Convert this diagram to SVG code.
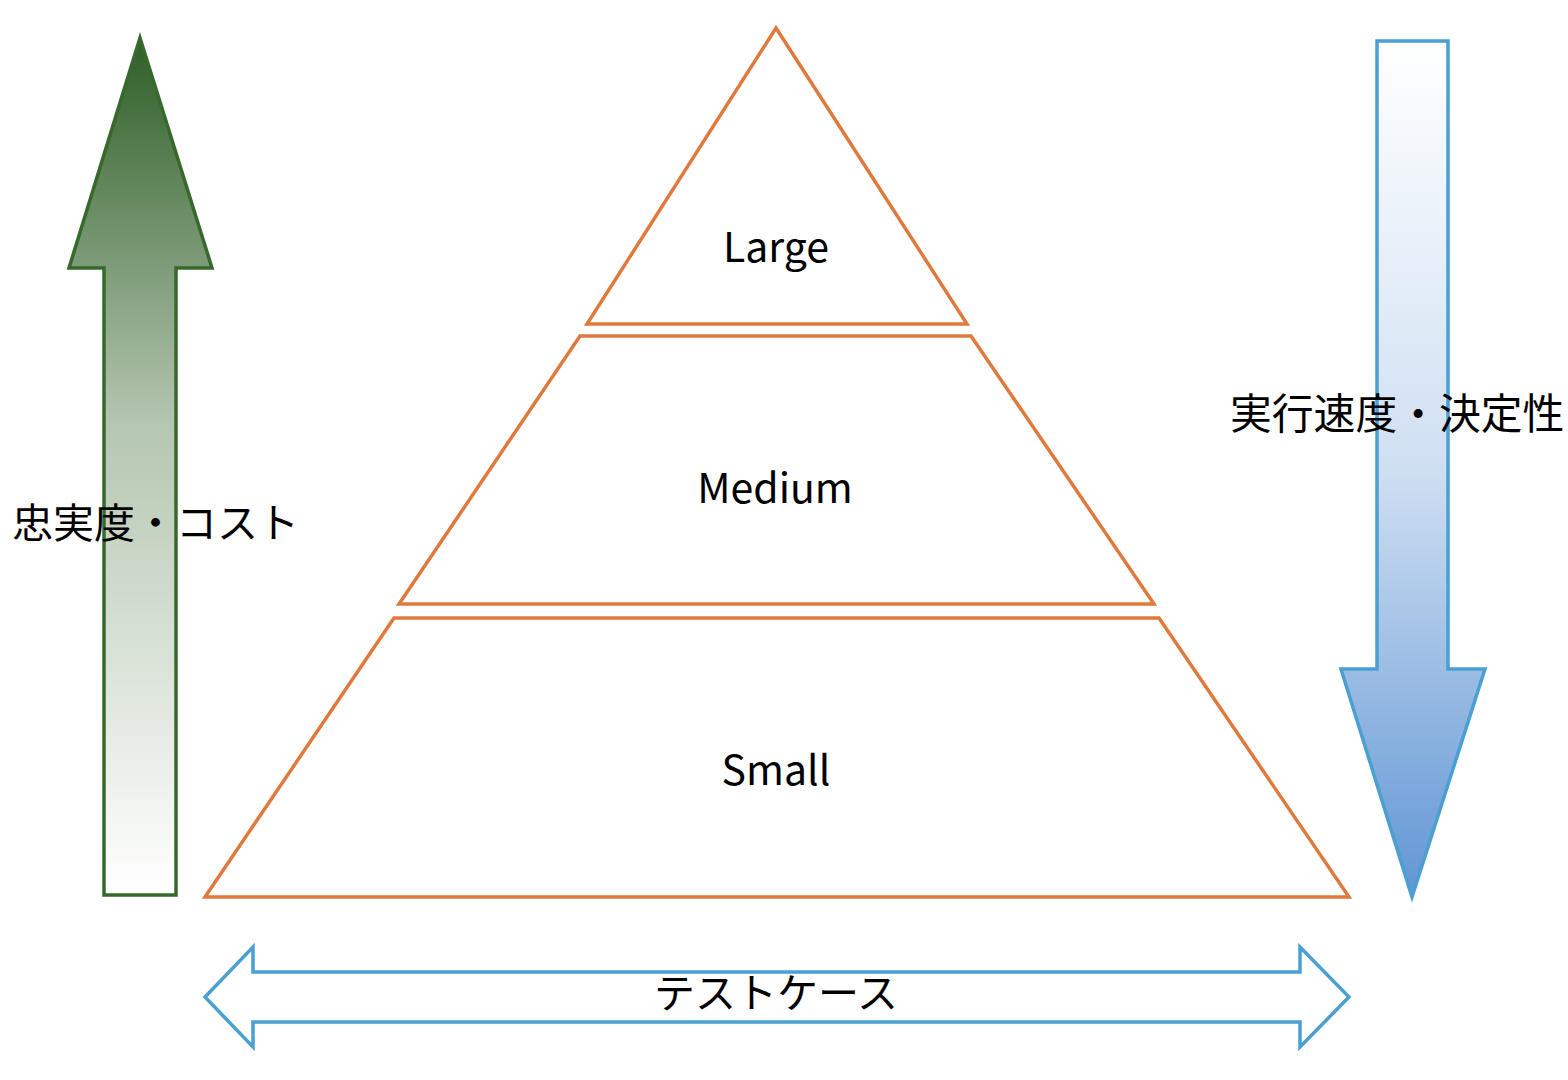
<svg xmlns="http://www.w3.org/2000/svg" width="1568" height="1080" viewBox="0 0 1568 1080">
<style>
.tier{fill:#ffffff;stroke:#e07a3c;stroke-width:3.5}
.lbl{font-family:"Noto Sans CJK JP","Noto Sans",sans-serif;font-size:41px;fill:#000000;text-anchor:middle}
.jp{font-family:"Noto Sans CJK JP",sans-serif;font-size:41px;fill:#000000}
</style>
<defs>
<linearGradient id="gGreen" x1="0" y1="0" x2="0" y2="1">
<stop offset="0" stop-color="#2e5e27"/>
<stop offset="0.45" stop-color="#b5c6b1"/>
<stop offset="1" stop-color="#ffffff"/>
</linearGradient>
<linearGradient id="gBlue" x1="0" y1="0" x2="0" y2="1">
<stop offset="0" stop-color="#ffffff"/>
<stop offset="0.5" stop-color="#cfdff2"/>
<stop offset="1" stop-color="#6196d4"/>
</linearGradient>
</defs>
<g id="arrow-fidelity">
<path d="M140,38 L212,268 L176,268 L176,895 L104,895 L104,268 L69,268 Z" fill="url(#gGreen)" stroke="#38692c" stroke-width="3.5"/>
</g>
<g id="arrow-speed">
<path d="M1377,41 L1448,41 L1448,669 L1485,669 L1412,897 L1341,669 L1377,669 Z" fill="url(#gBlue)" stroke="#4a9fd3" stroke-width="3.5"/>
</g>
<g id="arrow-testcases">
<path d="M205,997 L253,947 L253,972 L1300,972 L1300,947 L1349,997 L1300,1047 L1300,1022 L253,1022 L253,1047 Z" fill="#ffffff" stroke="#4a9fd3" stroke-width="3.5"/>
</g>
<g id="tier-large">
<path class="tier" d="M776,28 L967,324 L587,324 Z"/>
<text class="lbl" x="776" y="262">Large</text>
</g>
<g id="tier-medium">
<path class="tier" d="M580,336 L971,336 L1154,604 L399,604 Z"/>
<text class="lbl" x="775" y="503">Medium</text>
</g>
<g id="tier-small">
<path class="tier" d="M394,618 L1159,618 L1349,897 L205,897 Z"/>
<text class="lbl" x="776" y="785">Small</text>
</g>
<g id="labels">
<text class="jp" x="12" y="538">忠実度・コスト</text>
<text class="jp" x="1230" y="429" style="font-size:41.8px">実行速度・決定性</text>
<text class="jp" x="776" y="1008" text-anchor="middle">テストケース</text>
</g>
<g id="connectors"></g>
</svg>
